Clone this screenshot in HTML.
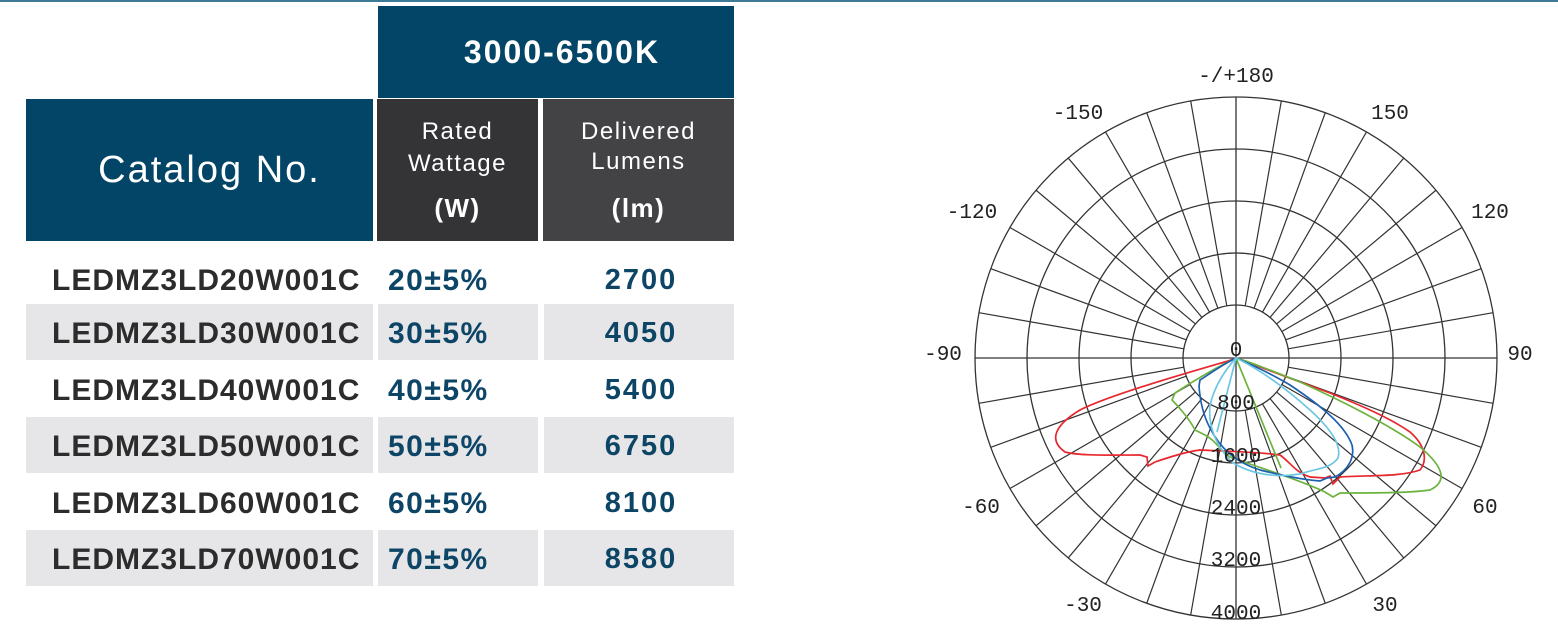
<!DOCTYPE html>
<html><head><meta charset="utf-8"><style>
body{margin:0;width:1558px;height:633px;background:#fff;position:relative;overflow:hidden;font-family:"Liberation Sans",sans-serif}
.b{position:absolute;box-sizing:border-box;display:flex;align-items:center;justify-content:center;text-align:center}
.g{background:#e6e6e8}
.cat{font-weight:bold;font-size:30px;letter-spacing:1px;color:#2c2c2c;justify-content:flex-start;padding-left:26px;padding-top:3px}
.w{font-weight:bold;font-size:30px;letter-spacing:1.5px;color:#0d4567;justify-content:flex-start;padding-left:10px;padding-top:3px}
.l{font-weight:bold;font-size:29px;color:#0d4567;letter-spacing:2px;padding-left:4px;padding-top:3px}
</style></head><body>
<div style="position:absolute;left:0;top:0;width:1558px;height:2px;background:#3d7a93"></div>
<div class="b" style="left:378px;top:6px;width:356px;height:92px;background:#034567;color:#fff;font-weight:bold;font-size:32px;letter-spacing:2px;padding-left:12px">3000-6500K</div>
<div class="b" style="left:26px;top:99px;width:347px;height:142px;background:#034567;color:#fff;font-size:38px;letter-spacing:2px;padding-top:0px;padding-left:20px">Catalog No.</div>
<div class="b" style="left:377px;top:99px;width:161px;height:142px;background:#343336;color:#fff;font-size:24px;line-height:32px;letter-spacing:1.5px;flex-direction:column"><div>Rated<br>Wattage</div><div style="font-weight:bold;font-size:26px;margin-top:12px">(W)</div></div>
<div class="b" style="left:543px;top:99px;width:191px;height:142px;background:#434244;color:#fff;font-size:24px;line-height:30px;letter-spacing:1.5px;flex-direction:column"><div>Delivered<br>Lumens</div><div style="font-weight:bold;font-size:26px;margin-top:16px">(lm)</div></div>

<div class="b cat" style="left:26px;top:251px;width:347px;height:56px">LEDMZ3LD20W001C</div>
<div class="b w" style="left:378px;top:251px;width:160px;height:56px">20±5%</div>
<div class="b l" style="left:544px;top:251px;width:190px;height:56px">2700</div>

<div class="b cat g" style="left:26px;top:304px;width:347px;height:56px">LEDMZ3LD30W001C</div>
<div class="b w g" style="left:378px;top:304px;width:160px;height:56px">30±5%</div>
<div class="b l g" style="left:544px;top:304px;width:190px;height:56px">4050</div>

<div class="b cat" style="left:26px;top:361px;width:347px;height:56px">LEDMZ3LD40W001C</div>
<div class="b w" style="left:378px;top:361px;width:160px;height:56px">40±5%</div>
<div class="b l" style="left:544px;top:361px;width:190px;height:56px">5400</div>

<div class="b cat g" style="left:26px;top:417px;width:347px;height:56px">LEDMZ3LD50W001C</div>
<div class="b w g" style="left:378px;top:417px;width:160px;height:56px">50±5%</div>
<div class="b l g" style="left:544px;top:417px;width:190px;height:56px">6750</div>

<div class="b cat" style="left:26px;top:474px;width:347px;height:56px">LEDMZ3LD60W001C</div>
<div class="b w" style="left:378px;top:474px;width:160px;height:56px">60±5%</div>
<div class="b l" style="left:544px;top:474px;width:190px;height:56px">8100</div>

<div class="b cat g" style="left:26px;top:530px;width:347px;height:56px">LEDMZ3LD70W001C</div>
<div class="b w g" style="left:378px;top:530px;width:160px;height:56px">70±5%</div>
<div class="b l g" style="left:544px;top:530px;width:190px;height:56px">8580</div>

<svg style="position:absolute;left:0;top:0" width="1558" height="633" font-family="Liberation Mono, monospace" font-size="21" fill="#222">
<g fill="none" stroke="#333" stroke-width="1.3">
<circle cx="1236" cy="358" r="53"/><circle cx="1236" cy="358" r="105"/><circle cx="1236" cy="358" r="157"/><circle cx="1236" cy="358" r="209"/><circle cx="1236" cy="358" r="261"/>
<line x1="975" y1="358" x2="1497" y2="358"/><line x1="1236" y1="97" x2="1236" y2="619"/>
</g>
<g id="rl" stroke="#333" stroke-width="1.2"></g>
<g fill="none" stroke-width="1.7">
<path stroke="#e8262d" d="M1236,358 L1228,361 C1180,375 1110,395 1080,410 C1055,425 1048,440 1065,452 C1080,456 1110,455 1140,455 L1147,457 L1148,466 L1155,462 C1170,457 1185,452 1200,450 C1220,451 1260,452 1280,455 C1290,462 1295,472 1310,477 L1325,478 L1330,476 L1333,484 L1340,477 C1370,475 1400,477 1420,470 C1428,460 1425,445 1410,432 C1390,418 1360,405 1330,393 C1300,382 1260,367 1236,358 Z"/>
<path stroke="#6cb33e" d="M1236,358 C1215,368 1195,380 1175,393 L1172,400 C1180,408 1190,420 1195,430 L1205,435 C1215,440 1220,450 1230,457 C1260,468 1300,480 1325,492 L1333,497 L1340,493 C1370,493 1410,493 1430,490 C1447,482 1445,468 1420,447 C1390,425 1340,400 1300,382 C1270,370 1250,362 1236,358 Z M1236,358 L1281,468"/>
<path stroke="#1d5fb0" d="M1236,358 C1220,366 1208,375 1200,380 L1199,386 C1200,400 1203,415 1210,428 C1220,448 1235,462 1260,470 C1280,475 1305,480 1320,481 L1327,478 L1335,477 C1348,470 1355,458 1352,445 C1345,425 1320,405 1290,385 C1270,373 1250,364 1236,358 Z"/>
<path stroke="#6ec6e3" d="M1236,358 C1225,370 1215,385 1210,405 C1208,425 1215,445 1232,462 C1250,474 1275,478 1300,474 C1318,468 1330,469 1338,458 C1342,445 1330,428 1310,410 C1290,392 1265,372 1236,358 Z M1236,358 L1217,432"/>
</g>
<g text-anchor="middle">
<text x="1236" y="82">-/+180</text>
<text x="1390" y="119">150</text><text x="1078" y="119">-150</text>
<text x="1490" y="218">120</text><text x="972" y="218">-120</text>
<text x="1520" y="360">90</text><text x="943" y="360">-90</text>
<text x="1485" y="513">60</text><text x="981" y="513">-60</text>
<text x="1385" y="611">30</text><text x="1083" y="611">-30</text>
<text x="1236" y="356">0</text>
<text x="1236" y="409">800</text><text x="1236" y="462">1600</text><text x="1236" y="514">2400</text><text x="1236" y="566">3200</text><text x="1236" y="619">4000</text>
</g>
</svg>
<script>
var g=document.getElementById('rl'),s='';
for(var a=0;a<360;a+=10){if(a%90==0)continue;var t=a*Math.PI/180,c=Math.cos(t),n=Math.sin(t);
s+='<line x1="'+(1236+53*c)+'" y1="'+(358+53*n)+'" x2="'+(1236+261*c)+'" y2="'+(358+261*n)+'"/>';}
g.innerHTML=s;
</script>
</body></html>
